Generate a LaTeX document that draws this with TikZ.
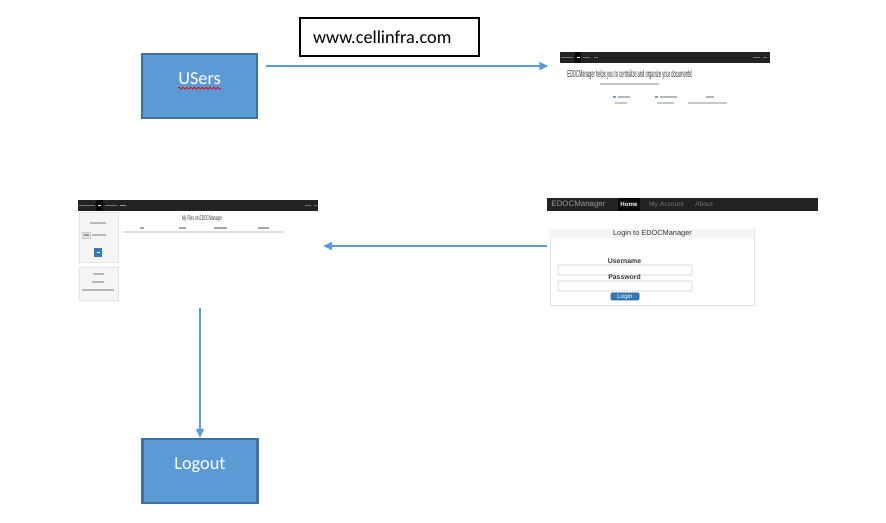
\documentclass[tikz,border=0pt]{standalone}
\usepackage{fontspec}
\setmainfont{Carlito}
\newfontfamily\webfont{Liberation Sans}
\usepackage{graphicx}
\usetikzlibrary{arrows.meta, positioning, decorations.pathmorphing, calc}

\definecolor{boxfill}{HTML}{5B9BD5}
\definecolor{boxline}{HTML}{41719C}
\definecolor{navbar}{HTML}{222222}
\definecolor{navactive}{HTML}{080808}
\definecolor{navgrey}{HTML}{9D9D9D}
\definecolor{webtext}{HTML}{333333}
\definecolor{btnblue}{HTML}{337AB7}
\definecolor{panelgrey}{HTML}{F5F5F5}
\definecolor{panelline}{HTML}{E3E3E3}

\begin{document}
\begin{tikzpicture}[x=0.02cm, y=-0.02cm,
    stepbox/.style={rectangle, draw=boxline, line width=1.4pt, fill=boxfill, minimum width=2.3cm, minimum height=1.28cm, inner sep=0pt},
    boxlabel/.style={font=\fontsize{10.4}{12}\selectfont, text=white, inner sep=0pt, anchor=base},
    urlbox/.style={rectangle, draw=black, line width=0.6pt, minimum width=3.58cm, minimum height=0.76cm, inner xsep=0.26cm, text width=3.06cm, align=left, font=\fontsize{10.4}{12}\selectfont},
    shot/.style={rectangle, fill=white, inner sep=0pt},
    flow/.style={draw=boxfill, line width=0.7pt, -{Triangle[length=5pt, width=4.5pt]}},
    spell/.style={draw=red, line width=0.45pt, decorate, decoration={snake, amplitude=0.55pt, segment length=2.2pt}},
    web/.style={inner sep=0pt, text=webtext, font=\webfont\fontsize{4.2}{5}\selectfont},
    navtxt/.style={line width=0.8, draw=black!55},
    blur/.style={line width=0.8, draw=black!28},
    panel/.style={fill=panelgrey, draw=panelline, line width=0.4},
    inputbox/.style={fill=white, draw=black!20, line width=0.4, rounded corners=0.6pt}
]
\useasboundingbox[fill=white] (0,0) rectangle (886,523);

% Main boxes
\node[stepbox] (users) at (199.5,86) {};
\node[boxlabel] (usersText) at (199.5,85) {USers};
\draw[spell] ([yshift=-1.8pt]usersText.base west) -- ([yshift=-1.8pt]usersText.base east);

\node[urlbox] (url) at (389.5,37) {www.cellinfra.com};

\node[stepbox] (logout) at (200,471) {};
\node[boxlabel] (logoutText) at (200,470) {Logout};

% Screenshot: home page
\node[shot, minimum width=4.2cm, minimum height=1.16cm] (home) at (665,81) {};
\fill[navbar] (560,52) rectangle (770,63);
\fill[navactive] (575,52) rectangle (581,63);
\draw[navtxt] (561,57.5) -- (573,57.5);
\draw[navtxt, draw=white] (576.5,57.5) -- (579.5,57.5);
\draw[navtxt] (583,57.5) -- (590,57.5);
\draw[navtxt] (594,57.5) -- (598,57.5);
\draw[navtxt] (753,57.5) -- (760,57.5);
\draw[navtxt] (763,57.5) -- (767,57.5);
\node[web, anchor=west] (homeTitle) at (567,74.5) {\resizebox{2.5cm}{4.2pt}{EDOCManager helps you to centralize and organize your documents!}};
\draw[blur, line width=0.7, draw=black!22] (600,84) -- (659,84);
\draw[blur, draw=btnblue!70] (613,97) -- (616,97);
\draw[blur] (618,97) -- (630,97);
\draw[blur, draw=btnblue!70] (655,97) -- (658,97);
\draw[blur] (660,97) -- (677,97);
\draw[blur] (706,97) -- (714,97);
\draw[blur, line width=0.6, draw=black!22] (615,103) -- (627,103);
\draw[blur, line width=0.6, draw=black!22] (657,103) -- (674,103);
\draw[blur, line width=0.6, draw=black!22] (688,103) -- (727,103);

% Screenshot: file list
\node[shot, minimum width=4.8cm, minimum height=2cm] (files) at (198,250) {};
\fill[navbar] (78,200) rectangle (318,211);
\fill[navactive] (96,200) rectangle (103,211);
\draw[navtxt] (79,205.5) -- (95,205.5);
\draw[navtxt, draw=white] (98,205.5) -- (101,205.5);
\draw[navtxt] (105,205.5) -- (117,205.5);
\draw[navtxt, draw=black!40] (120,205.5) -- (126,205.5);
\draw[navtxt] (305,205.5) -- (311,205.5);
\draw[navtxt] (314,205.5) -- (317,205.5);
\filldraw[panel] (79,212) rectangle (118,262);
\filldraw[panel] (79,267) rectangle (118,300);
\draw[blur, line width=0.6] (90,223) -- (106,223);
\filldraw[fill=black!10, draw=black!20, line width=0.3] (82,232) rectangle (90,238);
\draw[blur, line width=0.6, draw=black!40] (83.5,235) -- (88.5,235);
\draw[blur, line width=0.6] (92,235) -- (106,235);
\fill[btnblue] (94,248) rectangle (102,257);
\draw[white, line width=0.6] (96.5,252.5) -- (99.5,252.5);
\draw[blur, line width=0.6] (93,274) -- (104,274);
\draw[blur, line width=0.6] (92,282) -- (104,282);
\draw[blur, line width=0.6] (82,290) -- (114,290);
\node[web] (filesTitle) at (202,219) {\resizebox{0.8cm}{2.8pt}{My Files on EDOCManager}};
\draw[blur, line width=0.6, draw=black!35] (140,228) -- (144,228);
\draw[blur, line width=0.6, draw=black!35] (179,228) -- (186,228);
\draw[blur, line width=0.6, draw=black!35] (214,228) -- (227,228);
\draw[blur, line width=0.6, draw=black!35] (258,228) -- (269,228);
\draw[black!12, line width=0.6] (122,232) -- (284,232);

% Screenshot: login page
\node[shot, minimum width=5.42cm, minimum height=2.14cm] (login) at (682.5,251.5) {};
\fill[navbar] (547,198) rectangle (818,211);
\fill[navactive] (618,198) rectangle (640,211);
\node[web, text=navgrey, font=\webfont\fontsize{4.5}{5}\selectfont] (loginBrand) at (578.5,204.5) {EDOCManager};
\node[web, text=white, font=\webfont\bfseries\fontsize{3.5}{4}\selectfont] (loginHome) at (629,204.5) {Home};
\node[web, text=black!55, font=\webfont\fontsize{3.8}{4}\selectfont] (loginAccount) at (666.5,204.5) {My Account};
\node[web, text=black!55, font=\webfont\fontsize{3.9}{4}\selectfont] (loginAbout) at (704,204.5) {About};
\filldraw[fill=white, draw=black!12, line width=0.4] (550,229) rectangle (754,305);
\fill[panelgrey] (550.3,229.3) rectangle (753.7,238);
\node[web] (loginTitle) at (652.5,233.5) {Login to EDOCManager};
\node[web, font=\webfont\bfseries\fontsize{3.9}{4}\selectfont] (loginUser) at (624.5,261) {Username};
\filldraw[inputbox] (558,265) rectangle (692,275);
\node[web, font=\webfont\bfseries\fontsize{3.9}{4}\selectfont] (loginPass) at (624.5,277) {Password};
\filldraw[inputbox] (558,281) rectangle (692,291);
\filldraw[fill=btnblue, draw=btnblue!80!black, line width=0.3, rounded corners=0.5pt] (611,293) rectangle (639,300);
\node[web, text=white, font=\webfont\fontsize{3.5}{4}\selectfont] (loginBtn) at (625,296.5) {Login};

% Connectors
\coordinate (usersOut) at ($(users.north east)!0.2!(users.south east)$);
\draw[flow, shorten <=4.5pt, shorten >=6.5pt] (usersOut) -- (usersOut -| home.west);
\draw[flow, shorten >=2.8pt] (login.west |- 0,246) -- (files.east |- 0,246);
\draw[flow, shorten <=4.5pt] (files.south -| logout.north) -- (logout.north);

\end{tikzpicture}
\end{document}
